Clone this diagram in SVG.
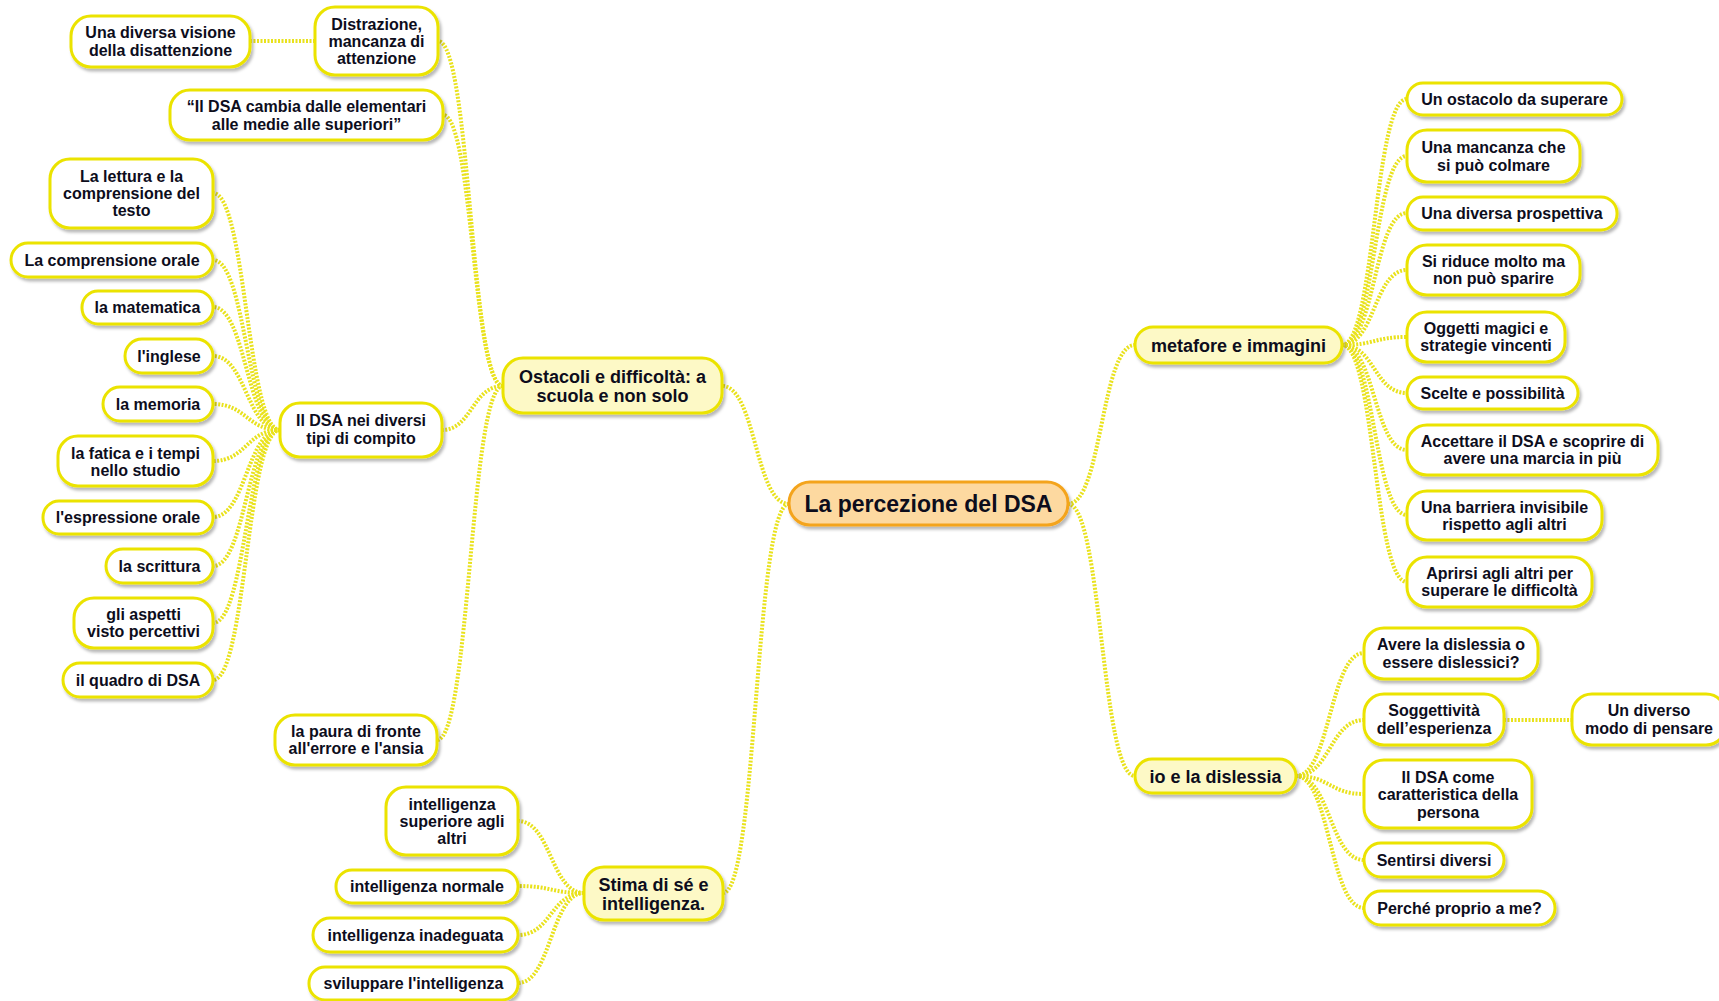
<svg xmlns="http://www.w3.org/2000/svg" width="1719" height="1001" viewBox="0 0 1719 1001">
  <defs>
    <filter id="shadow" x="-10%" y="-20%" width="130%" height="160%">
      <feDropShadow dx="2" dy="3" stdDeviation="1.8" flood-color="#000" flood-opacity="0.28"/>
    </filter>
  </defs>
  <style>
    .node rect { fill: #ffffff; stroke: #ebe300; stroke-width: 3; filter: url(#shadow); }
    .main rect { fill: #fdf9c6; }
    .root rect { fill: #fdd9a0; stroke: #f4a41c; }
    text { font-family: "Liberation Sans", Arial, sans-serif; font-weight: bold; fill: #0d0d1c; text-anchor: middle; font-size: 16px; }
    .main text { font-size: 18px; }
    .root text { font-size: 23px; }
    .links path { fill: none; stroke: #e9e21c; stroke-width: 4; stroke-dasharray: 2 1.5; }
  </style>

  <rect width="1719" height="1001" fill="#ffffff"/>

  <!-- connectors -->
  <g id="connectors" class="links">
    <!-- root to main branches -->
    <path d="M789,504 C755,504 756,386 722,386"/>
    <path d="M789,504 C755,504 757,893 723,893"/>
    <path d="M1068,504 C1102,504 1101,345 1135,345"/>
    <path d="M1068,504 C1102,504 1101,776 1135,776"/>
    <!-- Ostacoli e difficoltà -->
    <path d="M503,386 C470,386 471,41 438,41"/>
    <path d="M503,386 C473,386 473,115 443,115"/>
    <path d="M503,386 C472,386 472,430 442,430"/>
    <path d="M503,386 C470,386 470,740 437,740"/>
    <path d="M315,41 L250,41"/>
    <!-- Il DSA nei diversi tipi di compito -->
    <path d="M280,430 C247,430 246,193 213,193"/>
    <path d="M280,430 C247,430 246,260 213,260"/>
    <path d="M280,430 C247,430 246,307 213,307"/>
    <path d="M280,430 C247,430 246,356 213,356"/>
    <path d="M280,430 C247,430 246,404 213,404"/>
    <path d="M280,430 C247,430 246,461 213,461"/>
    <path d="M280,430 C247,430 246,517 213,517"/>
    <path d="M280,430 C247,430 246,566 213,566"/>
    <path d="M280,430 C247,430 246,623 213,623"/>
    <path d="M280,430 C247,430 246,680 213,680"/>
    <!-- Stima di sé -->
    <path d="M584,893 C551,893 551,821 518,821"/>
    <path d="M584,893 C551,893 551,886 518,886"/>
    <path d="M584,893 C551,893 551,935 518,935"/>
    <path d="M584,893 C551,893 551,983 518,983"/>
    <!-- metafore e immagini -->
    <path d="M1342,345 C1375,345 1374,99 1407,99"/>
    <path d="M1342,345 C1375,345 1374,156 1407,156"/>
    <path d="M1342,345 C1375,345 1374,213 1407,213"/>
    <path d="M1342,345 C1375,345 1374,270 1407,270"/>
    <path d="M1342,345 C1375,345 1374,337 1407,337"/>
    <path d="M1342,345 C1375,345 1374,393 1407,393"/>
    <path d="M1342,345 C1375,345 1374,450 1407,450"/>
    <path d="M1342,345 C1375,345 1374,515 1407,515"/>
    <path d="M1342,345 C1375,345 1374,582 1407,582"/>
    <!-- io e la dislessia -->
    <path d="M1296,776 C1330,776 1330,653 1364,653"/>
    <path d="M1296,776 C1330,776 1330,720 1364,720"/>
    <path d="M1296,776 C1330,776 1330,794 1364,794"/>
    <path d="M1296,776 C1330,776 1330,860 1364,860"/>
    <path d="M1296,776 C1330,776 1330,908 1364,908"/>
    <path d="M1504,720 L1572,720"/>
  </g>

  <!-- root -->
  <g id="n-root" class="node root">
    <rect x="789" y="482" width="279" height="43" rx="21"/>
    <text x="928.5" y="511.5">La percezione del DSA</text>
  </g>

  <!-- main branches -->
  <g id="n-ostacoli" class="node main">
    <rect x="503" y="358" width="219" height="55" rx="20"/>
    <text x="612.5" y="383">Ostacoli e difficoltà: a</text>
    <text x="612.5" y="402">scuola e non solo</text>
  </g>
  <g id="n-stima" class="node main">
    <rect x="584" y="867" width="139" height="53" rx="20"/>
    <text x="653.5" y="891">Stima di sé e</text>
    <text x="653.5" y="910">intelligenza.</text>
  </g>
  <g id="n-metafore" class="node main">
    <rect x="1135" y="327" width="207" height="36" rx="18"/>
    <text x="1238.5" y="351.5">metafore e immagini</text>
  </g>
  <g id="n-io" class="node main">
    <rect x="1135" y="759" width="161" height="34" rx="17"/>
    <text x="1215.5" y="782.5">io e la dislessia</text>
  </g>

  <!-- Ostacoli e difficoltà: children -->
  <g id="n-distrazione" class="node">
    <rect x="315" y="7" width="123" height="68" rx="20"/>
    <text x="376.5" y="30">Distrazione,</text>
    <text x="376.5" y="47">mancanza di</text>
    <text x="376.5" y="64">attenzione</text>
  </g>
  <g id="n-visione" class="node">
    <rect x="71" y="16" width="179" height="51" rx="20"/>
    <text x="160.5" y="38">Una diversa visione</text>
    <text x="160.5" y="56">della disattenzione</text>
  </g>
  <g id="n-cambia" class="node">
    <rect x="170" y="90" width="273" height="50" rx="20"/>
    <text x="306.5" y="112">“Il DSA cambia dalle elementari</text>
    <text x="306.5" y="130">alle medie alle superiori”</text>
  </g>
  <g id="n-tipi" class="node">
    <rect x="280" y="403" width="162" height="54" rx="20"/>
    <text x="361" y="426">Il DSA nei diversi</text>
    <text x="361" y="444">tipi di compito</text>
  </g>
  <g id="n-paura" class="node">
    <rect x="275" y="715" width="162" height="50" rx="20"/>
    <text x="356" y="737">la paura di fronte</text>
    <text x="356" y="754">all'errore e l'ansia</text>
  </g>

  <!-- Il DSA nei diversi tipi di compito: children -->
  <g id="n-lettura" class="node">
    <rect x="50" y="159" width="163" height="69" rx="20"/>
    <text x="131.5" y="182">La lettura e la</text>
    <text x="131.5" y="199">comprensione del</text>
    <text x="131.5" y="216">testo</text>
  </g>
  <g id="n-comp-orale" class="node">
    <rect x="11" y="243" width="202" height="34" rx="17"/>
    <text x="112" y="265.5">La comprensione orale</text>
  </g>
  <g id="n-matematica" class="node">
    <rect x="82" y="291" width="131" height="33" rx="16"/>
    <text x="147.5" y="313">la matematica</text>
  </g>
  <g id="n-inglese" class="node">
    <rect x="125" y="339" width="88" height="34" rx="17"/>
    <text x="169" y="361.5">l'inglese</text>
  </g>
  <g id="n-memoria" class="node">
    <rect x="103" y="387" width="110" height="34" rx="17"/>
    <text x="158" y="409.5">la memoria</text>
  </g>
  <g id="n-fatica" class="node">
    <rect x="58" y="436" width="155" height="50" rx="20"/>
    <text x="135.5" y="459">la fatica e i tempi</text>
    <text x="135.5" y="476">nello studio</text>
  </g>
  <g id="n-espressione" class="node">
    <rect x="43" y="501" width="170" height="33" rx="16"/>
    <text x="128" y="523">l'espressione orale</text>
  </g>
  <g id="n-scrittura" class="node">
    <rect x="106" y="549" width="107" height="34" rx="17"/>
    <text x="159.5" y="571.5">la scrittura</text>
  </g>
  <g id="n-aspetti" class="node">
    <rect x="74" y="598" width="139" height="50" rx="20"/>
    <text x="143.5" y="620">gli aspetti</text>
    <text x="143.5" y="637">visto percettivi</text>
  </g>
  <g id="n-quadro" class="node">
    <rect x="63" y="663" width="150" height="34" rx="17"/>
    <text x="138" y="685.5">il quadro di DSA</text>
  </g>

  <!-- Stima di sé e intelligenza: children -->
  <g id="n-superiore" class="node">
    <rect x="386" y="787" width="132" height="68" rx="20"/>
    <text x="452" y="810">intelligenza</text>
    <text x="452" y="827">superiore agli</text>
    <text x="452" y="844">altri</text>
  </g>
  <g id="n-normale" class="node">
    <rect x="336" y="870" width="182" height="33" rx="16"/>
    <text x="427" y="892">intelligenza normale</text>
  </g>
  <g id="n-inadeguata" class="node">
    <rect x="313" y="918" width="205" height="34" rx="17"/>
    <text x="415.5" y="940.5">intelligenza inadeguata</text>
  </g>
  <g id="n-sviluppare" class="node">
    <rect x="309" y="967" width="209" height="33" rx="16"/>
    <text x="413.5" y="989">sviluppare l'intelligenza</text>
  </g>

  <!-- metafore e immagini: children -->
  <g id="n-ostacolo" class="node">
    <rect x="1407" y="83" width="215" height="32" rx="16"/>
    <text x="1514.5" y="104.5">Un ostacolo da superare</text>
  </g>
  <g id="n-mancanza" class="node">
    <rect x="1407" y="130" width="173" height="52" rx="20"/>
    <text x="1493.5" y="153">Una mancanza che</text>
    <text x="1493.5" y="171">si può colmare</text>
  </g>
  <g id="n-prospettiva" class="node">
    <rect x="1407" y="197" width="210" height="33" rx="16"/>
    <text x="1512" y="219">Una diversa prospettiva</text>
  </g>
  <g id="n-riduce" class="node">
    <rect x="1407" y="245" width="173" height="50" rx="20"/>
    <text x="1493.5" y="267">Si riduce molto ma</text>
    <text x="1493.5" y="284">non può sparire</text>
  </g>
  <g id="n-oggetti" class="node">
    <rect x="1407" y="312" width="158" height="50" rx="20"/>
    <text x="1486" y="334">Oggetti magici e</text>
    <text x="1486" y="351">strategie vincenti</text>
  </g>
  <g id="n-scelte" class="node">
    <rect x="1407" y="377" width="171" height="32" rx="16"/>
    <text x="1492.5" y="398.5">Scelte e possibilità</text>
  </g>
  <g id="n-accettare" class="node">
    <rect x="1407" y="425" width="251" height="50" rx="20"/>
    <text x="1532.5" y="447">Accettare il DSA e scoprire di</text>
    <text x="1532.5" y="464">avere una marcia in più</text>
  </g>
  <g id="n-barriera" class="node">
    <rect x="1407" y="491" width="195" height="49" rx="20"/>
    <text x="1504.5" y="513">Una barriera invisibile</text>
    <text x="1504.5" y="530">rispetto agli altri</text>
  </g>
  <g id="n-aprirsi" class="node">
    <rect x="1407" y="557" width="185" height="50" rx="20"/>
    <text x="1499.5" y="579">Aprirsi agli altri per</text>
    <text x="1499.5" y="596">superare le difficoltà</text>
  </g>

  <!-- io e la dislessia: children -->
  <g id="n-avere" class="node">
    <rect x="1364" y="628" width="174" height="51" rx="20"/>
    <text x="1451" y="650">Avere la dislessia o</text>
    <text x="1451" y="668">essere dislessici?</text>
  </g>
  <g id="n-soggettivita" class="node">
    <rect x="1364" y="694" width="140" height="51" rx="20"/>
    <text x="1434" y="716">Soggettività</text>
    <text x="1434" y="734">dell’esperienza</text>
  </g>
  <g id="n-diverso-modo" class="node">
    <rect x="1572" y="694" width="154" height="51" rx="20"/>
    <text x="1649" y="716">Un diverso</text>
    <text x="1649" y="734">modo di pensare</text>
  </g>
  <g id="n-caratteristica" class="node">
    <rect x="1364" y="760" width="168" height="68" rx="20"/>
    <text x="1448" y="783">Il DSA come</text>
    <text x="1448" y="800">caratteristica della</text>
    <text x="1448" y="818">persona</text>
  </g>
  <g id="n-sentirsi" class="node">
    <rect x="1364" y="843" width="140" height="34" rx="17"/>
    <text x="1434" y="865.5">Sentirsi diversi</text>
  </g>
  <g id="n-perche" class="node">
    <rect x="1364" y="891" width="191" height="34" rx="17"/>
    <text x="1459.5" y="913.5">Perché proprio a me?</text>
  </g>
</svg>
